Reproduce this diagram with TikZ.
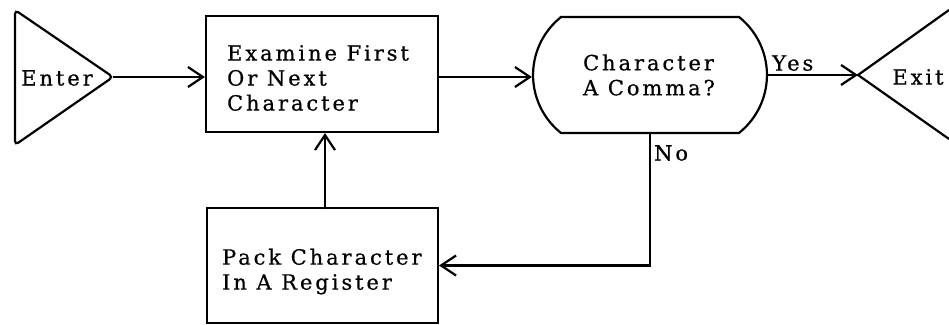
\documentclass[tikz,border=0pt]{standalone}
\usepackage{fontspec}
\setmainfont{DejaVu Serif}[LetterSpace=14,FakeBold=0.6]
\usetikzlibrary{arrows.meta,calc}
\begin{document}
\begin{tikzpicture}[x=1pt,y=1pt,
  line width=2.2pt,
  flow/.style={-{Straight Barb[length=15pt,width=20pt,line width=2.2pt]}},
  procbox/.style={draw,rectangle,inner sep=0pt,minimum width=#1},
  tagtext/.style={font=\fontsize{21}{25}\selectfont,inner sep=0pt,align=left},
  plain/.style={draw=none,inner sep=0pt}
]
\useasboundingbox (0,0) rectangle (949,324);
\fill[white] (0,0) rectangle (949,324);

% entry terminal
\coordinate (enterTop) at (15,314);
\coordinate (enterBot) at (15,179);
\coordinate (enterTip) at (113,247);
\draw[rounded corners=4pt] (enterTip) -- (enterTop) -- (enterBot) -- cycle;
\node[tagtext,anchor=center] (enterTxt) at (57,246) {Enter};

% examine box
\node[procbox=232pt,minimum height=116pt] (box1) at (322,250) {};
\node[tagtext,anchor=west] (box1Txt) at (226,246) {Examine First\\Or Next\\Character};

% pack box
\node[procbox=231pt,minimum height=115pt] (box2) at (322.5,58.5) {};
\node[tagtext,anchor=west] (box2Txt) at (221,52.5) {Pack Character\\In A Register};

% decision with curved sides
\node[plain,minimum width=234pt,minimum height=116pt] (dec) at (650,249) {};
\draw (561,307) -- (739,307)
  arc[start angle=51.5,end angle=-51.5,radius=74.07pt]
  -- (561,191)
  arc[start angle=231.5,end angle=128.5,radius=74.07pt] -- cycle;
\node[tagtext,anchor=west] (decTxt) at (582,249) {Character\\A Comma?};

% exit terminal
\coordinate (exitTip) at (858,249);
\coordinate (exitTop) at (949,314);
\coordinate (exitBot) at (949,185);
\draw (exitTop) -- (exitTip) -- (exitBot);
\node[tagtext,anchor=center] (exitTxt) at (918,247) {Exit};

% connectors
\draw[flow] (enterTip) -- (enterTip -| box1.west);
\draw[flow] ($(box1.east)+(0,-3)$) -- ($(box1.east -| dec.west)+(0,-3)$);
\draw[flow] (dec.east) -- (exitTip)
  node[tagtext,pos=0,anchor=south west,xshift=3pt,yshift=3pt] (yesTxt) {Yes};
\draw[flow] (dec.south) |- (box2.east);
\node[tagtext,anchor=north west] (noTxt) at ($(dec.south)+(3,-10)$) {No};
\draw[flow] (box1.south -| 325,0) ++(0,-76) -- (box1.south -| 325,0);
\end{tikzpicture}
\end{document}
